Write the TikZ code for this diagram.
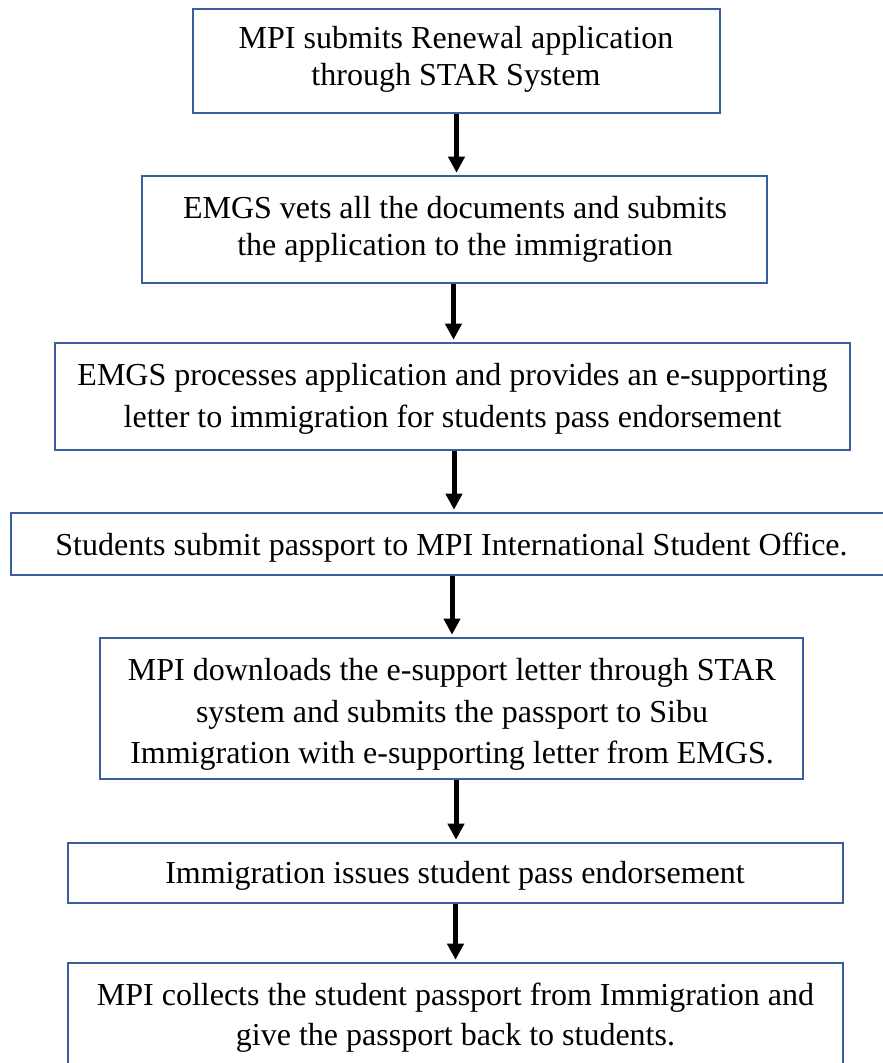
\documentclass[tikz,border=0pt]{standalone}
\usepackage{fontspec}
\setmainfont{Liberation Serif}
\usetikzlibrary{arrows.meta}
\definecolor{boxblue}{RGB}{59,94,160}
\tikzset{
  stepbox/.style={draw=boxblue, line width=2.6pt, rectangle, inner sep=0pt, fill=white},
  txt/.style={anchor=base, inner sep=0pt, font=\fontsize{32}{37}\selectfont},
  flow/.style={line width=5pt, -{Triangle[width=16pt,length=16pt]}, shorten >=2pt}
}
\begin{document}
\begin{tikzpicture}[x=1pt,y=-1pt]
\useasboundingbox (0,0) rectangle (883,1063);
\clip (0,0) rectangle (883,1063);
\fill[white] (0,0) rectangle (883,1063);
% boxes
\node[stepbox, minimum width=527pt, minimum height=104pt] (b1) at (456.5,61) {};
\node[stepbox, minimum width=625pt, minimum height=107pt] (b2) at (454.5,229.5) {};
\node[stepbox, minimum width=795pt, minimum height=107pt] (b3) at (452.5,396.5) {};
\node[stepbox, minimum width=884pt, minimum height=62pt] (b4) at (453,544) {};
\node[stepbox, minimum width=703pt, minimum height=141pt] (b5) at (451.5,708.5) {};
\node[stepbox, minimum width=775pt, minimum height=60pt] (b6) at (455.5,873) {};
\node[stepbox, minimum width=775pt, minimum height=130pt] (b7) at (455.5,1028) {};
% texts
\node[txt] (t1a) at (456,48) {MPI submits Renewal application};
\node[txt] (t1b) at (456,85) {through STAR System};
\node[txt] (t2a) at (455,218) {EMGS vets all the documents and submits};
\node[txt] (t2b) at (455,255) {the application to the immigration};
\node[txt] (t3a) at (452.5,385) {EMGS processes application and provides an e-supporting};
\node[txt] (t3b) at (452.5,427) {letter to immigration for students pass endorsement};
\node[txt] (t4a) at (451.5,555) {Students submit passport to MPI International Student Office.};
\node[txt] (t5a) at (452,680) {MPI downloads the e-support letter through STAR};
\node[txt] (t5b) at (452,722) {system and submits the passport to Sibu};
\node[txt] (t5c) at (452,763) {Immigration with e-supporting letter from EMGS.};
\node[txt] (t6a) at (455,883) {Immigration issues student pass endorsement};
\node[txt] (t7a) at (455.5,1005) {MPI collects the student passport from Immigration and};
\node[txt] (t7b) at (455.5,1045) {give the passport back to students.};
% arrows
\draw[flow] (b1.south) -- (b1.south |- b2.north);
\draw[flow] ([xshift=-1pt]b2.south) -- ([xshift=-1pt]b2.south |- b3.north);
\draw[flow] ([xshift=1.5pt]b3.south) -- ([xshift=1.5pt]b3.south |- b4.north);
\draw[flow] ([xshift=-1pt]b4.south) -- ([xshift=-1pt]b4.south |- b5.north);
\draw[flow] ([xshift=4.5pt]b5.south) -- ([xshift=4.5pt]b5.south |- b6.north);
\draw[flow] (b6.south) -- (b6.south |- b7.north);
\end{tikzpicture}
\end{document}
